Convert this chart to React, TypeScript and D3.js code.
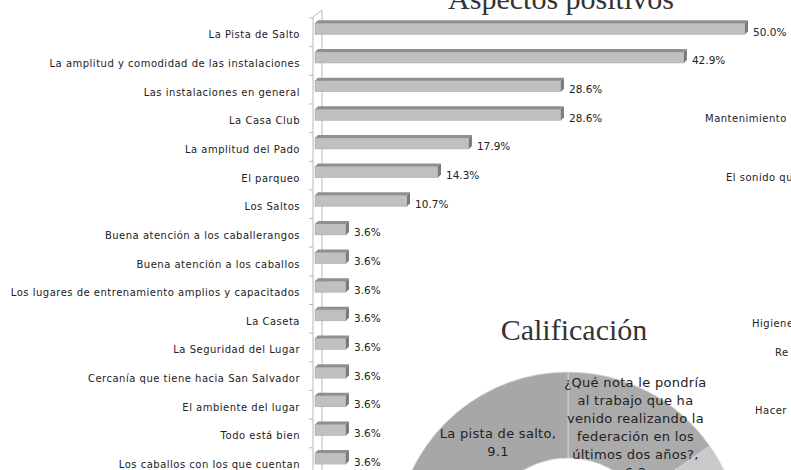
import React from 'react';
import * as d3 from 'd3';

// Aspectos positivos (porcentaje de menciones)
const categories = [
  'La Pista de Salto',
  'La amplitud y comodidad de las instalaciones',
  'Las instalaciones en general',
  'La Casa Club',
  'La amplitud del Pado',
  'El parqueo',
  'Los Saltos',
  'Buena atención a los caballerangos',
  'Buena atención a los caballos',
  'Los lugares de entrenamiento amplios y capacitados',
  'La Caseta',
  'La Seguridad del Lugar',
  'Cercanía que tiene hacia San Salvador',
  'El ambiente del lugar',
  'Todo está bien',
  'Los caballos con los que cuentan',
];
const percents = [50.0, 42.9, 28.6, 28.6, 17.9, 14.3, 10.7, 3.6, 3.6, 3.6, 3.6, 3.6, 3.6, 3.6, 3.6, 3.6];

// Calificación (donut) - only the top of it is visible
const ratingNames = [
  '¿Qué nota le pondría al trabajo que ha venido realizando la federación en los últimos dos años?',
  'Las instalaciones',
  'La atención',
  'La organización',
  'La pista de salto',
];
const ratingValues = [6.3, 8.7, 8.4, 8.7, 9.1];
const ratingColors = ['#ababab', '#c9c9c9', '#b8b8b8', '#9c9c9c', '#a7a7a7'];

// labels of the next chart, cut by the right edge
const sideLabels = ['Mantenimiento', 'El sonido que', 'Higiene', 'Re', 'Hacer'];

const W = 791;
const H = 470;
const FONT = '"Comic Sans MS", "DejaVu Sans", sans-serif';

const wrap = (s: string, max: number) => {
  const words = s.split(' ');
  const lines: string[] = [];
  let cur = '';
  words.forEach((w) => {
    const next = cur ? cur + ' ' + w : w;
    if (next.length > max && cur) {
      lines.push(cur);
      cur = w;
    } else cur = next;
  });
  if (cur) lines.push(cur);
  return lines;
};

const BarChart = () => {
  const x = d3.scaleLinear().domain([0, 50]).range([315, 745]);
  const y = d3.scaleBand().domain(categories).range([15, 15 + 16 * 28.65]);
  const d = 3;
  const h = 11;
  const x0 = x(0);
  return (
    <g>
      <text x={561} y={9} textAnchor="middle" fontFamily='"Liberation Serif", serif' fontSize={30} fill="#333">
        Aspectos positivos
      </text>
      {/* 3d axis wall */}
      <line x1={322} x2={322} y1={10} y2={H} stroke="#b8b8b8" />
      <line x1={313} x2={313} y1={17} y2={H} stroke="#b8b8b8" />
      <line x1={313} x2={322} y1={17} y2={10} stroke="#b8b8b8" />
      {categories.map((c, i) => (
        <line key={'t' + i} x1={309} x2={313} y1={(y(c) ?? 0) + 3} y2={(y(c) ?? 0) + 3} stroke="#b8b8b8" />
      ))}
      {categories.map((c, i) => {
        const yc = (y(c) ?? 0) + y.bandwidth() / 2;
        const x1 = x(percents[i]);
        const top = yc - 6;
        return (
          <g key={c}>
            <rect x={x0} y={top} width={x1 - x0} height={h} fill="#c0c0c0" stroke="#a3a3a3" strokeWidth={0.5} />
            <polygon
              points={`${x0},${top} ${x0 + d},${top - d} ${x1 + d},${top - d} ${x1},${top}`}
              fill="#8f8f8f"
            />
            <polygon
              points={`${x1},${top} ${x1 + d},${top - d} ${x1 + d},${top + h - d} ${x1},${top + h}`}
              fill="#7a7a7a"
            />
            <text x={300} y={yc + 9} textAnchor="end" fontFamily={FONT} fontSize={10} letterSpacing={0.5} fill="#222">
              {c}
            </text>
            <text x={x1 + d + 5} y={yc + 6.5} fontFamily={FONT} fontSize={10.5} fill="#222">
              {percents[i].toFixed(1)}%
            </text>
          </g>
        );
      })}
    </g>
  );
};

const Donut = () => {
  const cx = 568;
  const cy = 545;
  const pie = d3.pie<number>().sort(null).value((v) => v);
  const arcs = pie(ratingValues);
  const arc = d3.arc<d3.PieArcDatum<number>>().innerRadius(87).outerRadius(173);
  const labelArc = d3.arc<d3.PieArcDatum<number>>().innerRadius(133).outerRadius(133);
  const nudge: Record<number, number> = { 0: 6, 4: 15 };
  return (
    <g>
      <text x={574} y={340} textAnchor="middle" fontFamily='"Liberation Serif", serif' fontSize={30} fill="#333">
        Calificación
      </text>
      <g transform={`translate(${cx},${cy})`}>
        {arcs.map((a, i) => (
          <path key={i} d={arc(a) ?? ''} fill={ratingColors[i]} stroke="#d8d8d8" strokeWidth={0.8} />
        ))}
        {arcs.map((a, i) => {
          const [lx, ly] = labelArc.centroid(a);
          const lines = wrap(`${ratingNames[i]}, ${ratingValues[i]}`, 20);
          const lh = 18;
          const y0 = ly - ((lines.length - 1) * lh) / 2;
          return (
            <text key={'l' + i} textAnchor="middle" fontFamily={FONT} fontSize={13} letterSpacing={0.3} fill="#222">
              {lines.map((ln, k) => (
                <tspan key={k} x={lx + (nudge[i] ?? 0)} y={y0 + k * lh + 4.5}>
                  {ln}
                </tspan>
              ))}
            </text>
          );
        })}
      </g>
    </g>
  );
};

const sidePos = [
  [705, 118],
  [726, 177],
  [752, 323],
  [775, 352],
  [755, 410],
];

export default function App() {
  return (
    <svg
      width={W}
      height={H}
      viewBox={`0 0 ${W} ${H}`}
      style={{ position: 'absolute', left: 0, top: 0, background: '#fff', overflow: 'hidden' }}
    >
      <rect width={W} height={H} fill="#fff" />
      <BarChart />
      <Donut />
      {sideLabels.map((s, i) => (
        <text
          key={s}
          x={sidePos[i][0]}
          y={sidePos[i][1] + 3.5}
          fontFamily={FONT}
          fontSize={10}
          letterSpacing={0.5}
          fill="#222"
        >
          {s}
        </text>
      ))}
    </svg>
  );
}
